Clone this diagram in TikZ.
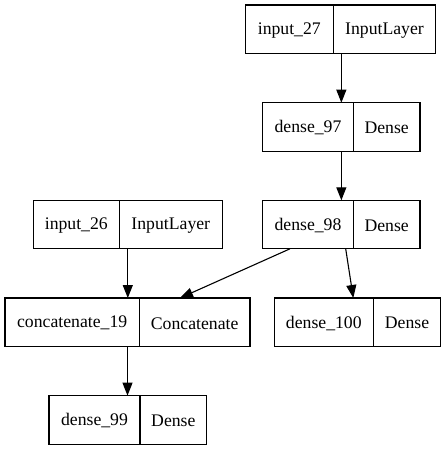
\documentclass[tikz,border=0pt]{standalone}
\usepackage{fontspec}
\setmainfont{Liberation Serif}
\newfontfamily\lblfont{Liberation Serif}
\usetikzlibrary{arrows.meta,fit,calc}
\tikzset{
  box/.style={draw=black, line width=1.1pt, inner sep=0pt, outer sep=0pt},
  divider/.style={draw=black, line width=1.1pt},
  txt/.style={inner sep=0pt, font=\lblfont\fontsize{17.7}{20}\selectfont},
  arr/.style={draw=black, line width=1.1pt, -{Triangle[length=13pt,width=10pt]}}
}
% #1 name, #2 x1, #3 xdiv, #4 x2, #5 ytop, #6 ybot, #7 left, #8 right
\newcommand\lyr[8]{%
  \coordinate (#1nw) at (#2,-#5);
  \coordinate (#1se) at (#4,-#6);
  \node[box, fit=(#1nw)(#1se)] (#1) {};
  \draw[divider] (#3,-#5) -- (#3,-#6);
  \node[txt] (#1l) at ({(#2+#3)/2},{-(#5+#6)/2-1}) {#7};
  \node[txt] (#1r) at ({(#3+#4)/2},{-(#5+#6)/2-1}) {#8};
}
\begin{document}
\begin{tikzpicture}[x=1pt,y=1pt]
\useasboundingbox (0,0) rectangle (445,-449);
\lyr{iA}{245.3}{333.3}{435.7}{5}{53.5}{input\_27}{InputLayer}
\lyr{dA}{262.7}{353.3}{420}{102.7}{151.2}{dense\_97}{Dense}
\lyr{dB}{262.7}{353.3}{420}{200.3}{248.8}{dense\_98}{Dense}
\lyr{iB}{33.3}{119.3}{222.3}{200.3}{248.8}{input\_26}{InputLayer}
\lyr{cA}{5}{139.3}{250}{298}{346.5}{concatenate\_19}{Concatenate}
\lyr{dC}{274.3}{373.3}{440.7}{298}{346.5}{dense\_100}{Dense}
\lyr{dD}{49}{140}{206.7}{395.6}{444.1}{dense\_99}{Dense}
\draw[arr] (iA.south -| dA.north) -- (dA.north);
\draw[arr] (dA.south) -- (dB.north);
\draw[arr] (iB.south) -- (iB.south |- cA.north);
\draw[arr] (cA.south) -- (cA.south |- dD.north);
\draw[arr] ($(dB.south west)+(27.3,0)$) -- ($(cA.north west)+(175,0)$);
\draw[arr] ($(dB.south west)+(83,0)$) -- ($(dC.north west)+(79,0)$);
\end{tikzpicture}
\end{document}
